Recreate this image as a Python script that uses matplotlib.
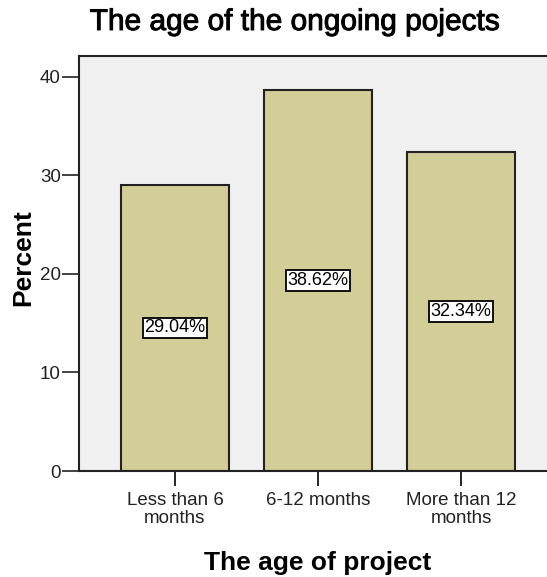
import matplotlib
matplotlib.use("Agg")
import matplotlib.pyplot as plt
import matplotlib.patheffects as pe

plt.rcParams['font.family'] = ['Liberation Sans', 'DejaVu Sans']

categories = ["Less than 6\nmonths", "6-12 months", "More than 12\nmonths"]
percents = [29.04, 38.62, 32.34]
yticks = [0, 10, 20, 30, 40]

W, H = 547, 577
fig = plt.figure(figsize=(W / 100, H / 100), dpi=100)
fig.patch.set_facecolor("white")

left, right, top, bottom = 79, 547, 56, 471
ax = fig.add_axes([left / W, 1 - bottom / H, (right - left) / W, (bottom - top) / H])
ax.set_facecolor("#F0F0F0")

x = list(range(len(categories)))
ax.bar(x, percents, width=0.755, color="#D3CE97", edgecolor="#222222", linewidth=1.5, zorder=2)

for xi, v in zip(x, percents):
    ax.text(xi, v / 2, f"{v:.2f}%", ha="center", va="center", fontsize=13, color="black",
            bbox=dict(boxstyle="square,pad=0.1", facecolor="white", edgecolor="black", linewidth=1.3),
            zorder=3)

ax.set_xlim(-0.671, 2.601)
ax.set_ylim(0, 42.1)
ax.set_yticks(yticks)
ax.set_xticks(x)
ax.set_xticklabels(categories, fontsize=13.5, color="#222222", linespacing=1.1)
ax.tick_params(axis="y", labelsize=13.5, colors="#222222", length=12, width=1.2, direction="out", pad=1)
ax.tick_params(axis="x", length=11, width=1.2, direction="out", pad=4)

for s in ["left", "bottom", "top"]:
    ax.spines[s].set_color("#222222")
    ax.spines[s].set_linewidth(1.5)
ax.spines["right"].set_visible(False)

title = fig.text(295 / W, 1 - 22 / H, "The age of the ongoing pojects", ha="center", va="center",
                 fontsize=21.5, color="black")
title.set_path_effects([pe.withStroke(linewidth=0.7, foreground="black")])
fig.text(318 / W, 1 - 563 / H, "The age of project", ha="center", va="center",
         fontsize=19, fontweight="bold", color="black")
fig.text(23 / W, 1 - 258 / H, "Percent", ha="center", va="center", rotation=90,
         fontsize=19, fontweight="bold", color="black")

fig.savefig("out.png", dpi=100)
